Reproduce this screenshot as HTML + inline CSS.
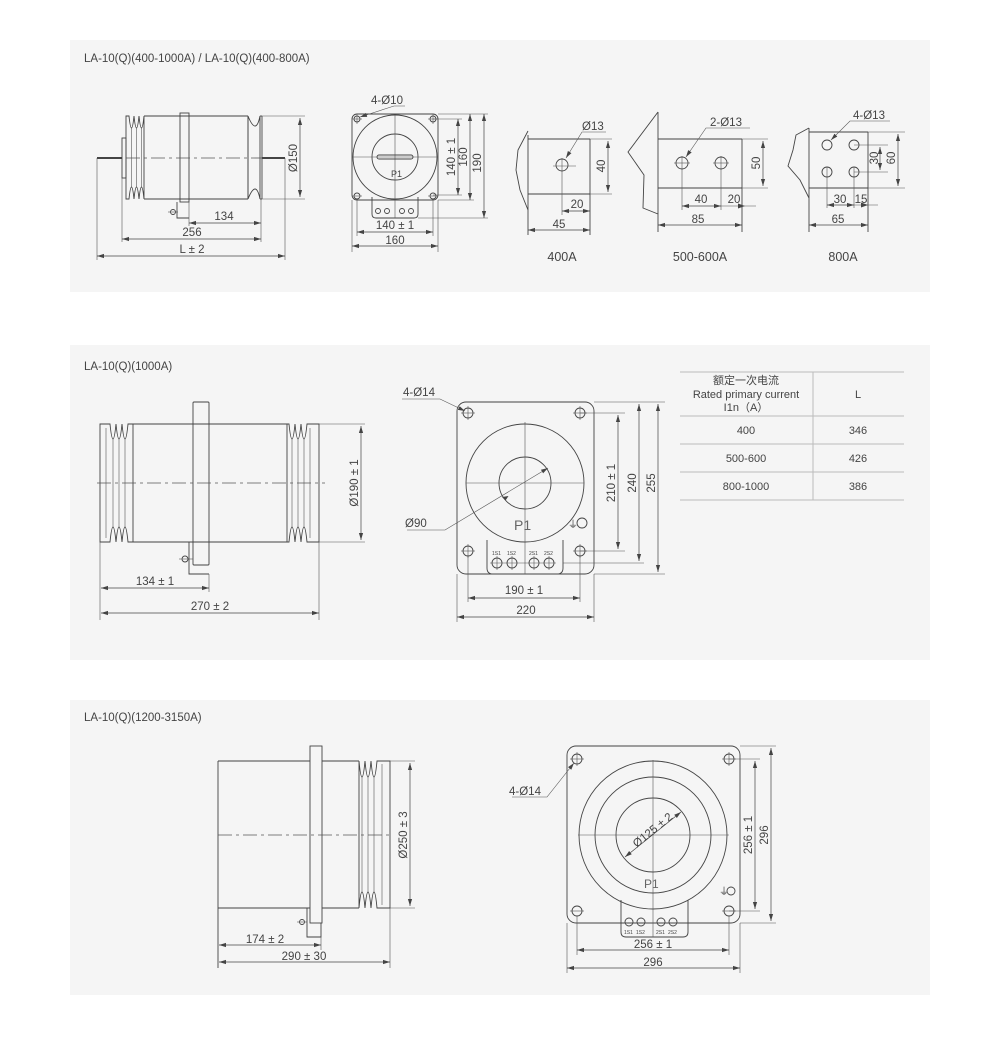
<!DOCTYPE html>
<html><head><meta charset="utf-8"><style>
html,body{margin:0;padding:0;background:#fff;}
svg{display:block;}
text{font-family:"Liberation Sans","Noto Sans CJK SC",sans-serif;fill:#444;font-size:11.5px;}
.l{stroke:#444;stroke-width:0.9;fill:none;}
.t{stroke:#555;stroke-width:0.6;fill:none;}
.c{stroke:#555;stroke-width:0.8;fill:none;stroke-dasharray:14 4 3 4;}
.d{stroke:#444;stroke-width:0.7;fill:none;marker-start:url(#a);marker-end:url(#a);}
.e{stroke:#555;stroke-width:0.6;fill:none;}
</style></head><body>
<svg width="1000" height="1039" viewBox="0 0 1000 1039" xmlns="http://www.w3.org/2000/svg">
<defs>
<marker id="a" viewBox="0 0 10 10" refX="10" refY="5" markerWidth="7" markerHeight="7" orient="auto-start-reverse" markerUnits="userSpaceOnUse"><path d="M0 2 L10 5 L0 8z" fill="#444"/></marker>
<marker id="b" viewBox="0 0 10 10" refX="10" refY="5" markerWidth="7" markerHeight="7" orient="auto" markerUnits="userSpaceOnUse"><path d="M0 2 L10 5 L0 8z" fill="#444"/></marker>
</defs>
<rect x="70" y="40" width="860" height="252" fill="#f5f5f5"/>
<rect x="70" y="345" width="860" height="315" fill="#f5f5f5"/>
<rect x="70" y="700" width="860" height="295" fill="#f5f5f5"/>

<!-- ========== PANEL 1 ========== -->
<text x="84" y="62">LA-10(Q)(400-1000A) / LA-10(Q)(400-800A)</text>
<rect x="122" y="138" width="4" height="40" class="l"/>
<path class="l" d="M126 116 H129 q2.5 24 5 0 q2.5 24 5 0 q2.5 24 5 0 V199 q-2.5 -24 -5 0 q-2.5 -24 -5 0 q-2.5 -24 -5 0 H126 Z"/>
<line class="t" x1="131.5" y1="128" x2="131.5" y2="187"/><line class="t" x1="136.5" y1="128" x2="136.5" y2="187"/><line class="t" x1="141.5" y1="128" x2="141.5" y2="187"/>
<line class="l" x1="144" y1="116" x2="248" y2="116"/><line class="l" x1="144" y1="199" x2="248" y2="199"/>
<rect x="180" y="113" width="9" height="89" class="l" fill="#f5f5f5"/>
<path class="l" d="M248 116 q4 10 7 10 q3 0 5 -10 V199 q-2 -10 -5 -10 q-3 0 -7 10 Z"/>
<line class="l" x1="248" y1="116" x2="248" y2="199"/><line class="l" x1="260" y1="116" x2="262" y2="116"/><line class="l" x1="262" y1="116" x2="262" y2="199"/><line class="l" x1="260" y1="199" x2="262" y2="199"/>
<line class="l" x1="97" y1="158" x2="122" y2="158" style="stroke-width:2"/>
<line class="l" x1="262" y1="158" x2="285" y2="158" style="stroke-width:2"/>
<line class="c" x1="126" y1="158" x2="262" y2="158"/>
<path class="l" d="M177 202 V218 H189"/>
<circle cx="173" cy="212" r="2.5" class="l"/><line class="t" x1="168" y1="212" x2="178" y2="212"/>
<line class="e" x1="262" y1="116" x2="305" y2="116"/><line class="e" x1="262" y1="199" x2="305" y2="199"/>
<line class="d" x1="300" y1="118" x2="300" y2="197"/>
<text transform="translate(297,158) rotate(-90)" text-anchor="middle">Ø150</text>
<line class="e" x1="189" y1="202" x2="189" y2="226"/><line class="e" x1="261" y1="199" x2="261" y2="242"/>
<line class="e" x1="122" y1="178" x2="122" y2="242"/><line class="e" x1="97" y1="158" x2="97" y2="260"/><line class="e" x1="285" y1="158" x2="285" y2="260"/>
<line class="d" x1="189" y1="223" x2="261" y2="223"/><text x="224" y="220" text-anchor="middle">134</text>
<line class="d" x1="122" y1="239" x2="261" y2="239"/><text x="192" y="236" text-anchor="middle">256</text>
<line class="d" x1="97" y1="256" x2="285" y2="256"/><text x="192" y="253" text-anchor="middle">L ± 2</text>
<!-- front -->
<rect x="352" y="114" width="86" height="86" rx="5" class="l"/>
<path class="l" d="M372 197 V214 q0 4 4 4 H414 q4 0 4 -4 V197"/>
<circle cx="395" cy="157" r="42" class="l" fill="#f5f5f5"/>
<circle cx="395" cy="157" r="23" class="l"/>
<line class="t" x1="353" y1="157" x2="437" y2="157"/><line class="t" x1="395" y1="115" x2="395" y2="218"/>
<rect x="377" y="155" width="36" height="4" rx="2" class="l" fill="#bbb"/>
<text x="391" y="177" style="font-size:9px">P1</text>
<g class="l"><circle cx="357" cy="119" r="3"/><circle cx="433" cy="119" r="3"/><circle cx="357" cy="196" r="3"/><circle cx="433" cy="196" r="3"/>
<circle cx="378" cy="211" r="2.5"/><circle cx="387" cy="211" r="2.5"/><circle cx="402" cy="211" r="2.5"/><circle cx="411" cy="211" r="2.5"/></g>
<g class="t"><line x1="352" y1="119" x2="362" y2="119"/><line x1="357" y1="114" x2="357" y2="124"/><line x1="428" y1="119" x2="438" y2="119"/><line x1="433" y1="114" x2="433" y2="124"/><line x1="352" y1="196" x2="362" y2="196"/><line x1="428" y1="196" x2="438" y2="196"/></g>
<text x="371" y="104">4-Ø10</text>
<path class="t" d="M405 106 H394 L360 117" marker-end="url(#b)"/>
<line class="e" x1="433" y1="119" x2="462" y2="119"/><line class="e" x1="433" y1="195" x2="462" y2="195"/>
<line class="e" x1="438" y1="114" x2="488" y2="114"/><line class="e" x1="438" y1="200" x2="474" y2="200"/><line class="e" x1="418" y1="218" x2="488" y2="218"/>
<line class="d" x1="458" y1="119" x2="458" y2="195"/><text transform="translate(455,157) rotate(-90)" text-anchor="middle">140 ± 1</text>
<line class="d" x1="470" y1="114" x2="470" y2="200"/><text transform="translate(467,157) rotate(-90)" text-anchor="middle">160</text>
<line class="d" x1="484" y1="114" x2="484" y2="218"/><text transform="translate(481,163) rotate(-90)" text-anchor="middle">190</text>
<line class="e" x1="357" y1="199" x2="357" y2="236"/><line class="e" x1="433" y1="199" x2="433" y2="236"/>
<line class="e" x1="352" y1="200" x2="352" y2="252"/><line class="e" x1="438" y1="200" x2="438" y2="252"/>
<line class="d" x1="357" y1="232" x2="433" y2="232"/><text x="395" y="229" text-anchor="middle">140 ± 1</text>
<line class="d" x1="352" y1="246" x2="438" y2="246"/><text x="395" y="244" text-anchor="middle">160</text>

<!-- 400A -->
<path class="l" d="M528 131 L518 150 L516 170 L520 190 L528 210"/>
<line class="l" x1="528" y1="139" x2="590" y2="139"/><line class="l" x1="528" y1="194" x2="590" y2="194"/><line class="l" x1="528" y1="135" x2="528" y2="235"/><line class="l" x1="590" y1="139" x2="590" y2="235"/>
<line class="e" x1="590" y1="139" x2="612" y2="139"/><line class="e" x1="590" y1="194" x2="612" y2="194"/>
<circle cx="562" cy="165" r="6" class="l"/><line class="t" x1="553" y1="166" x2="576" y2="166"/><line class="e" x1="562" y1="158" x2="562" y2="215"/>
<line class="d" x1="608" y1="141" x2="608" y2="192"/><text transform="translate(605,166) rotate(-90)" text-anchor="middle">40</text>
<line class="d" x1="562" y1="211" x2="590" y2="211"/><text x="577" y="208" text-anchor="middle">20</text>
<line class="d" x1="528" y1="230" x2="590" y2="230"/><text x="559" y="228" text-anchor="middle">45</text>
<text x="582" y="130">Ø13</text><path class="t" d="M606 132 H582 L566 158" marker-end="url(#b)"/>
<text x="562" y="261" text-anchor="middle" style="font-size:12.5px">400A</text>
<!-- 500-600A -->
<path class="l" d="M658 112 L628 152 L644 175 L643 208 L658 214"/>
<line class="l" x1="658" y1="112" x2="658" y2="232"/>
<line class="l" x1="658" y1="139" x2="742" y2="139"/><line class="l" x1="658" y1="188" x2="742" y2="188"/><line class="l" x1="742" y1="139" x2="742" y2="232"/>
<line class="e" x1="742" y1="139" x2="768" y2="139"/><line class="e" x1="742" y1="188" x2="768" y2="188"/>
<circle cx="682" cy="163" r="6" class="l"/><circle cx="721" cy="163" r="6" class="l"/>
<line class="t" x1="674" y1="163" x2="690" y2="163"/><line class="t" x1="713" y1="163" x2="729" y2="163"/>
<line class="e" x1="682" y1="156" x2="682" y2="210"/><line class="e" x1="721" y1="156" x2="721" y2="210"/>
<line class="d" x1="763" y1="141" x2="763" y2="186"/><text transform="translate(760,163) rotate(-90)" text-anchor="middle">50</text>
<line class="d" x1="682" y1="206" x2="721" y2="206"/><text x="701" y="203" text-anchor="middle">40</text>
<line class="e" x1="721" y1="206" x2="756" y2="206"/><path d="M745 206 l-7 -2.5 v5z" fill="#444"/><text x="734" y="203" text-anchor="middle">20</text>
<line class="d" x1="658" y1="225" x2="742" y2="225"/><text x="698" y="223" text-anchor="middle">85</text>
<text x="710" y="126">2-Ø13</text><path class="t" d="M750 128 H706 L686 157" marker-end="url(#b)"/>
<text x="700" y="261" text-anchor="middle" style="font-size:12.5px">500-600A</text>
<!-- 800A -->
<path class="l" d="M809 128 L796 135 L793 150 L788 166 L800 180 L809 198"/>
<line class="l" x1="809" y1="128" x2="809" y2="232"/>
<line class="l" x1="809" y1="132" x2="868" y2="132"/><line class="l" x1="809" y1="188" x2="868" y2="188"/><line class="l" x1="868" y1="132" x2="868" y2="232"/>
<line class="e" x1="868" y1="132" x2="905" y2="132"/><line class="e" x1="868" y1="188" x2="905" y2="188"/>
<g class="l"><circle cx="827" cy="145" r="5"/><circle cx="854" cy="145" r="5"/><circle cx="827" cy="172" r="5"/><circle cx="854" cy="172" r="5"/></g>
<line class="e" x1="854" y1="145" x2="888" y2="145"/><line class="e" x1="854" y1="172" x2="888" y2="172"/>
<line class="e" x1="827" y1="167" x2="827" y2="208"/><line class="e" x1="854" y1="167" x2="854" y2="208"/>
<line class="d" x1="880" y1="147" x2="880" y2="170"/><text transform="translate(878,158) rotate(-90)" text-anchor="middle">30</text>
<line class="d" x1="898" y1="134" x2="898" y2="186"/><text transform="translate(895,158) rotate(-90)" text-anchor="middle">60</text>
<line class="d" x1="827" y1="205" x2="854" y2="205"/><text x="840" y="203" text-anchor="middle">30</text>
<line class="e" x1="854" y1="205" x2="878" y2="205"/><path d="M868 205 l-7 -2.5 v5z" fill="#444"/><text x="861" y="203" text-anchor="middle">15</text>
<line class="d" x1="809" y1="225" x2="868" y2="225"/><text x="838" y="223" text-anchor="middle">65</text>
<text x="853" y="119">4-Ø13</text><path class="t" d="M890 121 H850 L831 140" marker-end="url(#b)"/>
<text x="843" y="261" text-anchor="middle" style="font-size:12.5px">800A</text>

<!-- ========== PANEL 2 ========== -->
<text x="84" y="370">LA-10(Q)(1000A)</text>
<path class="l" d="M100 424 H110 q3 30 6 0 q3 30 6 0 q3 30 6 0 H133 V542 H128 q-3 -30 -6 0 q-3 -30 -6 0 q-3 -30 -6 0 H100 Z"/>
<line class="t" x1="106" y1="428" x2="106" y2="538"/><line class="t" x1="113" y1="439" x2="113" y2="527"/><line class="t" x1="119" y1="439" x2="119" y2="527"/><line class="t" x1="125" y1="439" x2="125" y2="527"/>
<line class="l" x1="133" y1="424" x2="287" y2="424"/><line class="l" x1="133" y1="542" x2="287" y2="542"/>
<path class="l" d="M287 424 H289 q3 30 6 0 q3 30 6 0 q3 30 6 0 H319 V542 H307 q-3 -30 -6 0 q-3 -30 -6 0 q-3 -30 -6 0 H287 Z"/>
<line class="t" x1="292" y1="439" x2="292" y2="527"/><line class="t" x1="298" y1="439" x2="298" y2="527"/><line class="t" x1="304" y1="439" x2="304" y2="527"/><line class="t" x1="310" y1="428" x2="310" y2="538"/>
<path class="l" d="M189 542 V574 H209"/>
<rect x="193" y="402" width="16" height="163" rx="1" class="l" fill="#f5f5f5"/>
<circle cx="185" cy="559" r="3" class="l"/><line class="t" x1="179" y1="559" x2="193" y2="559"/>
<line class="c" x1="97" y1="483" x2="325" y2="483"/>
<line class="e" x1="319" y1="424" x2="365" y2="424"/><line class="e" x1="319" y1="542" x2="365" y2="542"/>
<line class="d" x1="361" y1="426" x2="361" y2="540"/><text transform="translate(358,483) rotate(-90)" text-anchor="middle">Ø190 ± 1</text>
<line class="e" x1="100" y1="542" x2="100" y2="620"/><line class="e" x1="209" y1="574" x2="209" y2="592"/><line class="e" x1="319" y1="542" x2="319" y2="620"/>
<line class="d" x1="101" y1="588" x2="209" y2="588"/><text x="155" y="585" text-anchor="middle">134 ± 1</text>
<line class="d" x1="101" y1="613" x2="319" y2="613"/><text x="210" y="610" text-anchor="middle">270 ± 2</text>
<!-- front -->
<rect x="457" y="402" width="137" height="172" rx="9" class="l"/>
<path class="l" d="M487 540 V568 q0 6 6 6 H557 q6 0 6 -6 V540"/>
<circle cx="525" cy="483" r="59" class="l" fill="#f5f5f5"/>
<circle cx="525" cy="483" r="26" class="l"/>
<line class="t" x1="466" y1="483" x2="584" y2="483"/><line class="t" x1="525" y1="422" x2="525" y2="574"/>
<text x="514" y="530" style="font-size:14px;fill:#666">P1</text>
<text x="568" y="528" style="font-size:10px">⏚</text>
<g class="l"><circle cx="468" cy="413" r="5"/><circle cx="580" cy="413" r="5"/><circle cx="468" cy="551" r="5"/><circle cx="580" cy="551" r="5"/><circle cx="582" cy="523" r="5"/>
<circle cx="497" cy="563" r="5"/><circle cx="512" cy="563" r="5"/><circle cx="534" cy="563" r="5"/><circle cx="549" cy="563" r="5"/></g>
<g class="t"><line x1="461" y1="413" x2="475" y2="413"/><line x1="468" y1="406" x2="468" y2="420"/><line x1="573" y1="413" x2="587" y2="413"/><line x1="580" y1="406" x2="580" y2="420"/><line x1="461" y1="551" x2="475" y2="551"/><line x1="468" y1="544" x2="468" y2="558"/><line x1="573" y1="551" x2="587" y2="551"/><line x1="580" y1="544" x2="580" y2="558"/>
<line x1="497" y1="556" x2="497" y2="570"/><line x1="512" y1="556" x2="512" y2="570"/><line x1="534" y1="556" x2="534" y2="570"/><line x1="549" y1="556" x2="549" y2="570"/><line x1="490" y1="563" x2="556" y2="563"/></g>
<text x="492" y="555" style="font-size:5px">1S1</text><text x="507" y="555" style="font-size:5px">1S2</text><text x="529" y="555" style="font-size:5px">2S1</text><text x="544" y="555" style="font-size:5px">2S2</text>
<text x="403" y="396">4-Ø14</text><path class="t" d="M402 399 H440 L465 411" marker-end="url(#b)"/>
<text x="405" y="527">Ø90</text><path class="t" d="M407 530 H445 L548 468" marker-end="url(#b)"/><path d="M502 497 l6.5 -1 l-3 4.5z" fill="#444"/>
<line class="e" x1="580" y1="413" x2="625" y2="413"/><line class="e" x1="580" y1="551" x2="625" y2="551"/>
<line class="e" x1="594" y1="402" x2="665" y2="402"/><line class="e" x1="563" y1="563" x2="644" y2="563"/><line class="e" x1="594" y1="574" x2="665" y2="574"/>
<line class="d" x1="618" y1="415" x2="618" y2="549"/><text transform="translate(615,483) rotate(-90)" text-anchor="middle">210 ± 1</text>
<line class="d" x1="639" y1="404" x2="639" y2="561"/><text transform="translate(636,483) rotate(-90)" text-anchor="middle">240</text>
<line class="d" x1="658" y1="404" x2="658" y2="572"/><text transform="translate(655,483) rotate(-90)" text-anchor="middle">255</text>
<line class="e" x1="468" y1="556" x2="468" y2="602"/><line class="e" x1="580" y1="556" x2="580" y2="602"/>
<line class="e" x1="457" y1="574" x2="457" y2="622"/><line class="e" x1="594" y1="574" x2="594" y2="622"/>
<line class="d" x1="468" y1="598" x2="580" y2="598"/><text x="524" y="594" text-anchor="middle">190 ± 1</text>
<line class="d" x1="457" y1="617" x2="594" y2="617"/><text x="526" y="614" text-anchor="middle">220</text>
<!-- table -->
<g class="t" style="stroke:#bbb;stroke-width:1"><line x1="680" y1="372" x2="904" y2="372"/><line x1="680" y1="416" x2="904" y2="416"/><line x1="680" y1="444" x2="904" y2="444"/><line x1="680" y1="472" x2="904" y2="472"/><line x1="680" y1="500" x2="904" y2="500"/><line x1="813" y1="372" x2="813" y2="500"/></g>
<g text-anchor="middle"><text x="746" y="384" style="font-size:11px">额定一次电流</text><text x="746" y="398" style="font-size:11px">Rated primary current</text><text x="746" y="411" style="font-size:11px">I1n（A）</text>
<text x="858" y="398" style="font-size:11px">L</text>
<text x="746" y="434" style="font-size:11px">400</text><text x="858" y="434" style="font-size:11px">346</text>
<text x="746" y="462" style="font-size:11px">500-600</text><text x="858" y="462" style="font-size:11px">426</text>
<text x="746" y="490" style="font-size:11px">800-1000</text><text x="858" y="490" style="font-size:11px">386</text></g>

<!-- ========== PANEL 3 ========== -->
<text x="84" y="721">LA-10(Q)(1200-3150A)</text>
<path class="l" d="M218 761 H310 M322 761 H359 M218 908 H310 M322 908 H359 M218 761 V968"/>
<path class="l" d="M359 761 q3 32 6 0 q3 32 6 0 q3 32 6 0 H390 V908 H377 q-3 -32 -6 0 q-3 -32 -6 0 q-3 -32 -6 0 Z"/>
<line class="t" x1="362" y1="777" x2="362" y2="892"/><line class="t" x1="368" y1="777" x2="368" y2="892"/><line class="t" x1="374" y1="777" x2="374" y2="892"/><line class="t" x1="382" y1="764" x2="382" y2="905"/>
<rect x="310" y="746" width="12" height="177" class="l" fill="#f5f5f5"/>
<path class="l" d="M307 908 V937 H321 V923"/>
<circle cx="302" cy="922" r="2.5" class="l"/><line class="t" x1="297" y1="922" x2="307" y2="922"/>
<line class="c" x1="218" y1="835" x2="392" y2="835"/>
<line class="e" x1="390" y1="761" x2="415" y2="761"/><line class="e" x1="390" y1="908" x2="415" y2="908"/>
<line class="d" x1="410" y1="763" x2="410" y2="906"/><text transform="translate(407,835) rotate(-90)" text-anchor="middle">Ø250 ± 3</text>
<line class="e" x1="390" y1="908" x2="390" y2="968"/><line class="e" x1="321" y1="937" x2="321" y2="950"/>
<line class="d" x1="219" y1="945" x2="321" y2="945"/><text x="265" y="943" text-anchor="middle">174 ± 2</text>
<line class="d" x1="219" y1="962" x2="390" y2="962"/><text x="304" y="960" text-anchor="middle">290 ± 30</text>
<!-- front -->
<rect x="567" y="746" width="173" height="177" rx="9" class="l"/>
<path class="l" d="M621 900 V932 q0 5 5 5 H683 q5 0 5 -5 V900"/>
<circle cx="653" cy="835" r="74" class="l" fill="#f5f5f5"/>
<circle cx="653" cy="835" r="58" class="l"/>
<circle cx="653" cy="835" r="37" class="l"/>
<line class="t" x1="578" y1="835" x2="729" y2="835"/><line class="t" x1="653" y1="760" x2="653" y2="937"/>
<text x="644" y="888" style="font-size:12px;fill:#666">P1</text>
<text x="719" y="895" style="font-size:10px">⏚</text>
<g class="l"><circle cx="577" cy="759" r="5"/><circle cx="729" cy="759" r="5"/><circle cx="577" cy="911" r="5"/><circle cx="729" cy="911" r="5"/><circle cx="731" cy="891" r="4"/>
<circle cx="629" cy="922" r="4"/><circle cx="641" cy="922" r="4"/><circle cx="661" cy="922" r="4"/><circle cx="673" cy="922" r="4"/></g>
<g class="t"><line x1="570" y1="759" x2="584" y2="759"/><line x1="577" y1="752" x2="577" y2="766"/><line x1="722" y1="759" x2="736" y2="759"/><line x1="729" y1="752" x2="729" y2="766"/><line x1="570" y1="911" x2="584" y2="911"/><line x1="722" y1="911" x2="736" y2="911"/></g>
<text x="624" y="934" style="font-size:5px">1S1</text><text x="636" y="934" style="font-size:5px">1S2</text><text x="656" y="934" style="font-size:5px">2S1</text><text x="668" y="934" style="font-size:5px">2S2</text>
<text x="509" y="795">4-Ø14</text><path class="t" d="M512 797 H547 L574 763" marker-end="url(#b)"/>
<line class="d" x1="625" y1="857" x2="681" y2="812"/>
<text transform="translate(655,833) rotate(-39)" text-anchor="middle">Ø125 ± 2</text>
<line class="e" x1="729" y1="759" x2="760" y2="759"/><line class="e" x1="729" y1="911" x2="760" y2="911"/>
<line class="e" x1="740" y1="746" x2="776" y2="746"/><line class="e" x1="740" y1="923" x2="776" y2="923"/>
<line class="d" x1="755" y1="761" x2="755" y2="909"/><text transform="translate(752,835) rotate(-90)" text-anchor="middle">256 ± 1</text>
<line class="d" x1="771" y1="748" x2="771" y2="921"/><text transform="translate(768,835) rotate(-90)" text-anchor="middle">296</text>
<line class="e" x1="577" y1="916" x2="577" y2="955"/><line class="e" x1="729" y1="916" x2="729" y2="955"/>
<line class="e" x1="567" y1="923" x2="567" y2="973"/><line class="e" x1="740" y1="923" x2="740" y2="973"/>
<line class="d" x1="577" y1="950" x2="729" y2="950"/><text x="653" y="948" text-anchor="middle">256 ± 1</text>
<line class="d" x1="567" y1="968" x2="740" y2="968"/><text x="653" y="966" text-anchor="middle">296</text>
</svg>
</body></html>
